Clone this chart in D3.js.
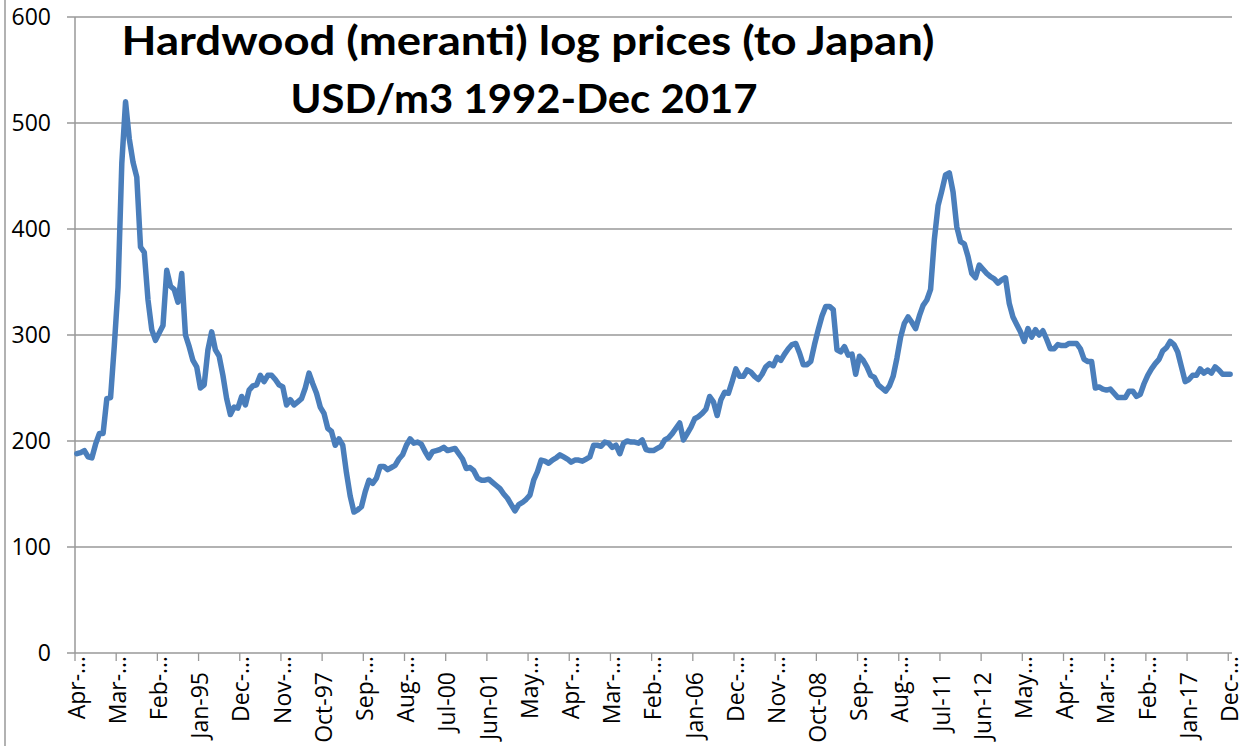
<!DOCTYPE html>
<html><head><meta charset="utf-8">
<script src="https://cdn.jsdelivr.net/npm/d3@7"></script>
<style>body{margin:0;background:#fff}svg{display:block}</style>
</head><body>
<svg id="chart" width="1243" height="746"></svg>
<script>
const titleLines = ["Hardwood (meranti) log prices (to Japan)", "USD/m3 1992-Dec 2017"];
const monthNames = ["Jan","Feb","Mar","Apr","May","Jun","Jul","Aug","Sep","Oct","Nov","Dec"];
const firstYear = 1992, firstMonth = 3, lastYear = 2017, lastMonth = 11;

// monthly prices, Apr-1992 .. Dec-2017 (USD/m3)
const prices = [
  188,189,191,185,184,197,207,207,240,
  241,290,345,462,520,485,463,449,383,378,333,305,
  295,302,309,361,346,343,331,358,300,289,276,270,
  250,253,286,303,286,280,262,240,225,232,231,242,
  234,248,252,253,262,256,262,262,258,253,251,234,
  239,234,237,240,250,264,254,245,232,226,212,209,
  196,202,196,170,148,133,135,138,152,163,160,165,
  176,176,173,175,177,183,187,196,202,198,199,197,
  190,184,190,191,192,194,191,192,193,188,183,174,
  175,172,165,163,163,164,161,158,155,150,146,140,
  134,140,142,145,149,163,171,182,181,179,182,184,
  187,185,183,180,182,182,181,183,185,196,196,195,
  199,198,194,196,188,198,200,199,199,198,201,192,
  191,191,193,195,201,203,207,212,217,201,207,213,
  221,223,226,230,242,237,224,239,246,245,256,268,
  261,261,267,265,261,258,263,270,273,271,279,276,
  282,287,291,292,283,272,272,275,291,305,318,327,
  327,324,286,284,289,281,282,263,280,276,270,262,
  260,253,250,247,252,261,278,298,311,317,312,306,
  318,328,333,343,390,422,436,451,453,435,402,388,
  386,374,358,354,366,362,358,355,353,349,352,354,
  330,317,310,303,294,306,298,305,300,304,296,287,
  287,291,290,290,292,292,292,287,277,275,275,250,
  251,249,248,249,245,241,241,241,247,247,242,244,
  254,262,268,273,277,285,288,294,291,284,270,256,
  258,262,262,268,264,267,264,270,267,263,263,263
];

const yTicks = [0, 100, 200, 300, 400, 500, 600];
const xTickEvery = 11;
const xTickLabels = ["Apr-…","Mar-…","Feb-…","Jan-95","Dec-…","Nov-…","Oct-97","Sep-…","Aug-…","Jul-00",
  "Jun-01","May…","Apr-…","Mar-…","Feb-…","Jan-06","Dec-…","Nov-…","Oct-08","Sep-…",
  "Aug-…","Jul-11","Jun-12","May…","Apr-…","Mar-…","Feb-…","Jan-17","Dec-…"];

// build category list
const categories = [];
for (let y = firstYear, m = firstMonth; y < lastYear || (y === lastYear && m <= lastMonth); ) {
  categories.push(monthNames[m] + "-" + String(y).slice(2));
  m++; if (m === 12) { m = 0; y++; }
}
const data = categories.map((c, i) => ({ c, v: prices[i] }));

const svg = d3.select("#chart");
const L = 75, R = 1232, T = 17, B = 653;
const x = d3.scaleBand().domain(categories).range([L, R]).padding(0);
const y = d3.scaleLinear().domain([0, 600]).range([B, T]);
const grey = "#989898";

// chart frame left border
svg.append("line").attr("x1", 5).attr("x2", 5).attr("y1", 0).attr("y2", 746)
  .attr("stroke", grey).attr("stroke-width", 1.5);

// gridlines + y ticks
svg.append("g").selectAll("line").data(yTicks).join("line")
  .attr("x1", L - 8).attr("x2", R)
  .attr("y1", d => y(d)).attr("y2", d => y(d))
  .attr("stroke", grey).attr("stroke-width", 1.3);

svg.append("g").selectAll("text").data(yTicks).join("text")
  .attr("x", 51).attr("y", d => y(d)).attr("dy", "0.36em")
  .attr("text-anchor", "end")
  .attr("font-family", "'Open Sans', sans-serif").attr("font-size", 23)
  .attr("fill", "#000").text(d => d);

// y axis line
svg.append("line").attr("x1", L).attr("x2", L).attr("y1", T).attr("y2", B)
  .attr("stroke", grey).attr("stroke-width", 1.5);

// x ticks
const tickCats = xTickLabels.map((t, k) => ({ label: t, cat: categories[k * xTickEvery] }));
svg.append("g").selectAll("line").data(tickCats).join("line")
  .attr("x1", d => x(d.cat)).attr("x2", d => x(d.cat))
  .attr("y1", B).attr("y2", B + 8)
  .attr("stroke", grey).attr("stroke-width", 1.3);

svg.append("g").selectAll("text").data(tickCats).join("text")
  .attr("transform", d => {
    const cx = x(d.cat) + x.bandwidth() / 2;
    const top = d.label.includes("…") ? 656 : 672;
    return `translate(${cx},${top}) rotate(-90)`;
  })
  .attr("text-anchor", "end").attr("dy", "0.34em")
  .attr("font-family", "'Open Sans', sans-serif").attr("font-size", 23)
  .attr("fill", "#000").text(d => d.label);

// line
const line = d3.line().x(d => x(d.c) + x.bandwidth() / 2).y(d => y(d.v));
svg.append("path").datum(data).attr("d", line)
  .attr("fill", "none").attr("stroke", "#4a7ebb").attr("stroke-width", 5.5)
  .attr("stroke-linejoin", "round").attr("stroke-linecap", "round");

// title
const titleSpecs = [{ cx: 528, base: 55, w: 813 }, { cx: 524, base: 113, w: 467 }];
svg.append("g").selectAll("text").data(titleLines).join("text")
  .attr("x", (d, i) => titleSpecs[i].cx - titleSpecs[i].w / 2)
  .attr("y", (d, i) => titleSpecs[i].base)
  .attr("textLength", (d, i) => titleSpecs[i].w)
  .attr("lengthAdjust", "spacingAndGlyphs")
  .attr("font-family", "Lato, 'Open Sans', sans-serif").attr("font-weight", "bold")
  .attr("font-size", 41).attr("fill", "#000").text(d => d);
</script>
</body></html>
